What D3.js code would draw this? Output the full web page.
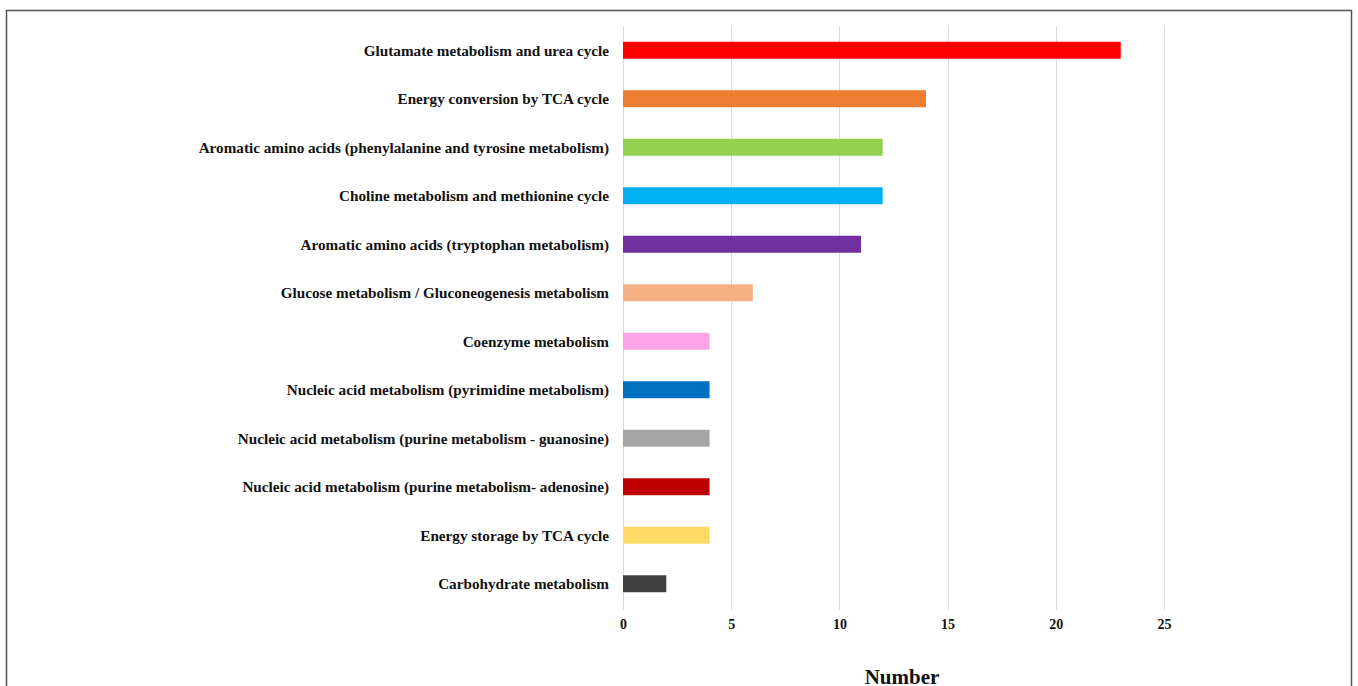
<!DOCTYPE html>
<html>
<head>
<meta charset="utf-8">
<script src="https://cdn.jsdelivr.net/npm/d3@7"></script>
<style>
  html, body { margin: 0; padding: 0; background: #fff; }
  body { width: 1358px; height: 686px; overflow: hidden; }
  svg { display: block; }
  .label { font-family: "Liberation Serif", "Times New Roman", serif; font-weight: bold; }
</style>
</head>
<body>
<script>
const categories = [
  'Glutamate metabolism and urea cycle',
  'Energy conversion by TCA cycle',
  'Aromatic amino acids (phenylalanine and tyrosine metabolism)',
  'Choline metabolism and methionine cycle',
  'Aromatic amino acids (tryptophan metabolism)',
  'Glucose metabolism / Gluconeogenesis metabolism',
  'Coenzyme metabolism',
  'Nucleic acid metabolism (pyrimidine metabolism)',
  'Nucleic acid metabolism (purine metabolism - guanosine)',
  'Nucleic acid metabolism (purine metabolism- adenosine)',
  'Energy storage by TCA cycle',
  'Carbohydrate metabolism'
]
const values = [23, 14, 12, 12, 11, 6, 4, 4, 4, 4, 4, 2]
const colors = ['#ff0000', '#ed7d31', '#92d050', '#00b0f0', '#7030a0', '#f4b183',
  '#ffa3e8', '#0070c0', '#a5a5a5', '#c00000', '#ffd966', '#404040']
const xTicks = [0, 5, 10, 15, 20, 25]
const xLabel = 'Number'

const data = categories.map((c, i) => ({ name: c, value: values[i], color: colors[i] }))

const W = 1358, H = 686
const margin = { top: 26, left: 623 }
const plotW = 1164 - 623   // 0..25
const plotH = 582

const svg = d3.select('body').append('svg')
  .attr('width', W)
  .attr('height', H)

// outer frame
svg.append('rect')
  .attr('x', 6.5).attr('y', 10.5)
  .attr('width', 1345).attr('height', 700)
  .attr('fill', 'none')
  .attr('stroke', '#555')
  .attr('stroke-width', 1.5)

const g = svg.append('g')
  .attr('transform', `translate(${margin.left},${margin.top})`)

const xScale = d3.scaleLinear().domain([0, 25]).range([0, plotW])
// outer padding = half inner padding, so each row gets an equal step
const yScale = d3.scaleBand().domain(categories).range([0, plotH])
  .paddingInner(0.65)
  .paddingOuter(0.325)

// gridlines
g.append('g').selectAll('line')
  .data(xTicks)
  .join('line')
  .attr('x1', d => Math.round(xScale(d)) + 0.5)
  .attr('x2', d => Math.round(xScale(d)) + 0.5)
  .attr('y1', 0)
  .attr('y2', plotH + 2)
  .attr('stroke', '#d9d9d9')
  .attr('stroke-width', 1)

// bars
g.append('g').selectAll('rect')
  .data(data)
  .join('rect')
  .attr('x', xScale(0))
  .attr('y', d => yScale(d.name))
  .attr('width', d => xScale(d.value) - xScale(0))
  .attr('height', yScale.bandwidth())
  .attr('fill', d => d.color)

// category labels
g.append('g').selectAll('text')
  .data(data)
  .join('text')
  .attr('class', 'label')
  .attr('x', -14)
  .attr('y', d => yScale(d.name) + yScale.bandwidth() / 2)
  .attr('dy', '0.35em')
  .attr('text-anchor', 'end')
  .attr('font-size', 15.2)
  .attr('fill', '#111')
  .text(d => d.name)

// x axis
const xAxis = d3.axisBottom(xScale).tickValues(xTicks).tickSize(0).tickPadding(0)
const axisG = g.append('g')
  .attr('transform', `translate(0,${plotH + 11})`)
  .call(xAxis)
axisG.select('.domain').remove()
axisG.selectAll('text')
  .attr('class', 'label')
  .attr('font-size', 14)
  .attr('fill', '#111')
  .attr('dy', '0.71em')

// axis title
svg.append('text')
  .attr('class', 'label')
  .attr('x', 902)
  .attr('y', 684)
  .attr('text-anchor', 'middle')
  .attr('font-size', 21)
  .attr('fill', '#111')
  .text(xLabel)
</script>
</body>
</html>
